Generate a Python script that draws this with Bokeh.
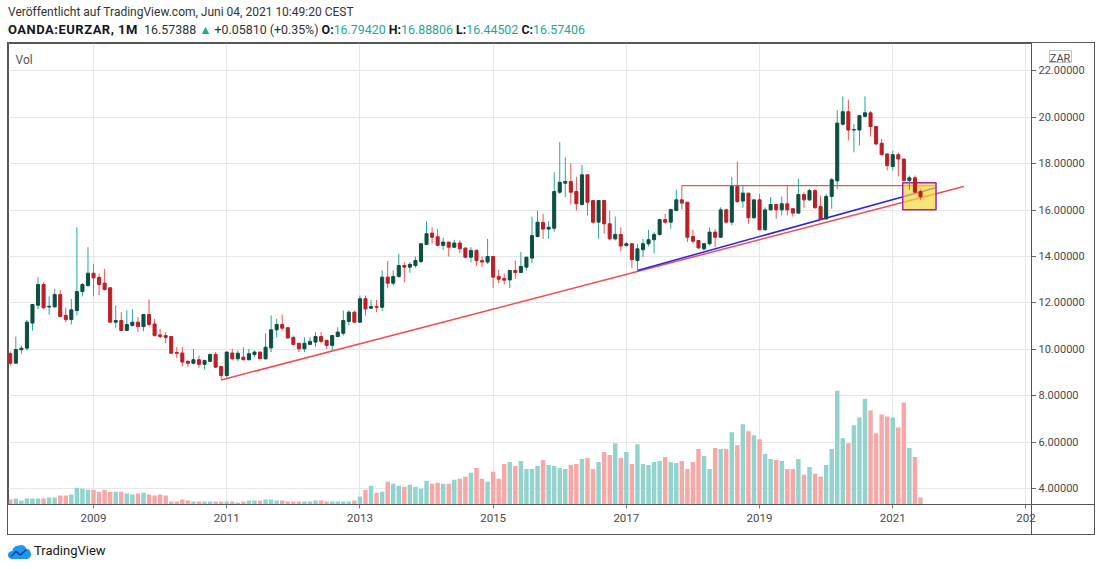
import numpy as np
from bokeh.plotting import figure
from bokeh.models import Range1d, FixedTicker, NumeralTickFormatter, ColumnDataSource, Label, Div
from bokeh.layouts import column
from bokeh.embed import file_html
from bokeh.resources import INLINE

# ---------------- data (monthly candles, first bar = Oct 2007) ----------------
first_year, first_month = 2007, 10

opens = [
    9.81, 9.40, 9.98, 10.05, 11.13, 11.90, 12.79, 11.82, 11.83, 12.36,
    11.46, 11.28, 11.67, 12.49, 12.75, 13.28, 13.10, 12.85, 12.65, 11.17,
    11.24, 10.81, 11.03, 11.17, 10.98, 11.50, 11.09, 10.62, 10.59, 10.55,
    9.86, 9.84, 9.48, 9.40, 9.55, 9.35, 9.48, 9.78, 9.26, 8.87,
    9.84, 9.59, 9.66, 9.55, 9.78, 9.88, 9.59, 10.06, 10.84, 11.07,
    10.93, 10.51, 10.26, 10.02, 10.21, 10.31, 10.55, 10.38, 10.17, 10.55,
    10.69, 11.20, 11.60, 11.17, 12.18, 11.77, 11.84, 11.81, 13.11, 12.85,
    13.14, 13.61, 13.54, 13.61, 13.78, 14.52, 15.01, 14.85, 14.48, 14.62,
    14.40, 14.58, 14.36, 13.97, 14.27, 13.82, 13.76, 14.00, 13.14, 13.05,
    12.99, 13.40, 13.31, 13.54, 13.93, 14.86, 15.47, 15.18, 15.22, 16.77,
    17.16, 17.23, 16.80, 16.24, 17.52, 16.41, 15.48, 16.41, 15.41, 14.76,
    14.95, 14.47, 14.55, 13.83, 14.29, 14.55, 14.72, 14.95, 15.59, 15.48,
    15.98, 16.44, 16.34, 14.86, 14.69, 14.33, 14.55, 15.05, 14.83, 16.01,
    15.48, 17.02, 16.39, 16.73, 15.67, 16.44, 15.15, 16.01, 16.24, 16.01,
    16.27, 16.06, 15.87, 16.67, 16.44, 16.84, 16.16, 15.62, 16.59, 17.26,
    19.70, 20.24, 19.45, 19.45, 20.04, 20.19, 19.60, 18.88, 18.42, 17.88,
    18.39, 18.20, 17.27, 17.39, 16.79420,
]
highs = [
    9.91, 10.55, 10.16, 11.27, 11.95, 13.11, 12.89, 12.28, 12.60, 12.56,
    11.79, 12.17, 15.26, 12.85, 14.40, 13.68, 13.25, 13.47, 12.68, 11.89,
    11.60, 11.67, 11.72, 11.38, 11.52, 12.15, 11.31, 10.88, 10.74, 10.56,
    10.09, 10.09, 9.52, 10.02, 9.73, 9.55, 9.81, 9.88, 9.27, 9.90,
    10.02, 9.95, 10.09, 10.02, 9.95, 9.90, 10.69, 11.46, 11.31, 11.50,
    10.95, 10.59, 10.27, 10.52, 10.52, 10.74, 10.74, 10.41, 10.60, 10.95,
    11.67, 11.67, 11.67, 12.32, 12.32, 12.13, 12.13, 13.40, 13.80, 13.40,
    14.12, 13.75, 13.75, 14.00, 14.56, 15.52, 15.26, 15.19, 14.81, 14.63,
    14.72, 14.70, 14.40, 14.40, 14.29, 14.00, 14.76, 14.01, 13.43, 13.26,
    13.41, 13.83, 14.19, 13.98, 15.72, 15.98, 15.84, 15.52, 17.63, 18.93,
    18.28, 18.02, 17.42, 17.95, 17.53, 16.42, 16.42, 16.42, 15.98, 15.72,
    15.26, 14.62, 14.56, 14.55, 14.76, 15.15, 15.05, 15.62, 15.84, 16.04,
    16.87, 17.06, 16.35, 15.15, 14.70, 14.56, 15.26, 15.19, 16.12, 16.06,
    17.42, 18.09, 17.06, 16.74, 16.45, 16.70, 16.12, 16.56, 16.25, 16.59,
    17.02, 16.07, 17.35, 16.77, 16.91, 16.91, 16.63, 16.70, 17.39, 20.30,
    20.90, 20.76, 19.71, 20.08, 20.90, 20.27, 19.61, 19.07, 18.43, 18.56,
    18.49, 18.21, 17.49, 17.49, 16.88806,
]
lows = [
    9.30, 9.40, 9.81, 9.95, 10.81, 11.72, 11.72, 11.50, 11.79, 11.38,
    11.17, 11.07, 11.46, 12.28, 12.68, 12.28, 12.32, 12.53, 11.15, 10.93,
    10.78, 10.80, 10.98, 10.74, 10.78, 10.98, 10.55, 10.48, 10.26, 9.81,
    9.63, 9.26, 9.23, 9.35, 9.20, 9.12, 9.46, 9.20, 8.68, 8.77,
    9.52, 9.48, 9.52, 9.52, 9.66, 9.59, 9.55, 9.88, 10.52, 10.81,
    10.45, 10.17, 9.88, 9.88, 10.20, 10.09, 10.26, 10.02, 9.95, 10.52,
    10.59, 11.03, 11.14, 11.14, 11.46, 11.74, 11.60, 11.64, 12.63, 12.75,
    13.08, 12.89, 13.30, 13.51, 13.71, 14.48, 14.55, 14.44, 14.28, 14.00,
    14.36, 14.14, 13.92, 13.75, 13.59, 13.54, 13.68, 12.65, 12.84, 12.80,
    12.64, 13.04, 13.28, 13.40, 13.71, 14.83, 14.76, 14.76, 15.05, 16.70,
    16.56, 16.24, 15.98, 16.20, 15.77, 15.41, 14.76, 14.98, 14.69, 14.69,
    14.23, 14.43, 13.51, 13.40, 13.97, 14.43, 14.14, 14.90, 15.41, 15.19,
    15.97, 16.03, 14.62, 14.55, 14.33, 14.26, 14.47, 14.40, 14.81, 15.41,
    15.34, 16.30, 16.10, 15.41, 15.62, 15.14, 15.12, 15.98, 15.62, 15.77,
    15.77, 15.72, 15.84, 16.10, 16.39, 16.06, 15.58, 15.58, 16.06, 16.90,
    19.65, 19.00, 18.49, 18.78, 20.00, 19.17, 18.78, 18.35, 17.71, 17.71,
    17.45, 17.24, 16.87, 16.73, 16.44502,
]
closes = [
    9.40, 9.99, 10.05, 11.17, 11.93, 12.79, 11.79, 11.85, 12.36, 11.41,
    11.28, 11.70, 12.49, 12.79, 13.28, 13.08, 12.79, 12.58, 11.17, 11.24,
    10.81, 11.07, 11.17, 10.98, 11.50, 11.07, 10.59, 10.55, 10.51, 9.83,
    9.83, 9.45, 9.40, 9.55, 9.35, 9.52, 9.78, 9.23, 8.87, 9.88,
    9.59, 9.83, 9.55, 9.81, 9.88, 9.59, 10.09, 10.84, 11.07, 10.91,
    10.49, 10.21, 10.02, 10.26, 10.34, 10.55, 10.34, 10.17, 10.59, 10.74,
    11.24, 11.60, 11.17, 12.18, 11.74, 11.84, 11.81, 13.11, 12.85, 13.14,
    13.61, 13.54, 13.66, 13.83, 14.55, 14.98, 14.83, 14.48, 14.62, 14.40,
    14.58, 14.33, 13.97, 14.26, 13.82, 13.76, 14.00, 13.11, 13.02, 12.98,
    13.40, 13.31, 13.57, 13.97, 14.90, 15.48, 15.18, 15.26, 16.80, 17.20,
    17.23, 16.77, 16.27, 17.52, 16.34, 15.48, 16.41, 15.41, 14.76, 14.95,
    14.45, 14.55, 13.86, 14.33, 14.55, 14.72, 14.95, 15.59, 15.48, 16.03,
    16.44, 16.30, 14.83, 14.66, 14.37, 14.55, 15.05, 14.83, 16.01, 15.48,
    17.02, 16.37, 16.73, 15.67, 16.44, 15.15, 16.01, 16.24, 16.01, 16.27,
    16.01, 15.87, 16.67, 16.44, 16.84, 16.10, 15.62, 16.59, 17.31, 19.75,
    20.24, 19.45, 19.47, 20.07, 20.19, 19.60, 18.85, 18.39, 17.92, 18.39,
    18.20, 17.27, 17.39, 16.77, 16.57406,
]
volumes = [
    15, 18, 12, 18, 18, 18, 18, 21, 21, 27,
    27, 30, 51, 48, 45, 45, 39, 45, 39, 39,
    39, 33, 30, 33, 36, 30, 27, 30, 27, 9,
    9, 15, 12, 9, 9, 9, 9, 9, 9, 9,
    9, 6, 9, 12, 12, 12, 15, 15, 12, 12,
    9, 9, 9, 9, 9, 12, 12, 9, 9, 9,
    9, 9, 12, 24, 45, 57, 36, 39, 69, 63,
    57, 54, 60, 54, 48, 72, 63, 66, 63, 63,
    75, 78, 84, 96, 111, 78, 69, 99, 78, 123,
    129, 117, 132, 108, 108, 117, 135, 120, 117, 111,
    108, 120, 123, 138, 141, 108, 129, 159, 150, 186,
    141, 159, 123, 183, 123, 120, 129, 132, 144, 129,
    126, 132, 108, 129, 168, 147, 108, 171, 168, 168,
    219, 180, 243, 222, 210, 198, 153, 138, 135, 132,
    108, 108, 138, 90, 114, 93, 84, 120, 168, 345,
    201, 186, 240, 264, 321, 285, 216, 273, 267, 264,
    234, 309, 171, 144, 21,
]

tick_years = [2009, 2011, 2013, 2015, 2017, 2019, 2021, 2023]
tick_labels = ["2009", "2011", "2013", "2015", "2017", "2019", "2021", "202"]
price_ticks = [4, 6, 8, 10, 12, 14, 16, 18, 20, 22]
currency_label, currency_label_y = "ZAR", 22.53

# drawings (bar index, price)
red_trend_x, red_trend_y = [38, 171.8], [8.68, 17.02]
blue_trend_x, blue_trend_y = [113, 166.7], [13.40, 16.96]
level_x, level_y = [121, 166.7], [17.05, 17.05]
box_x, box_y = [160.8, 166.8], [16.01, 17.18]

published = "Veröffentlicht auf TradingView.com, Juni 04, 2021 10:49:20 CEST"
symbol = "OANDA:EURZAR, 1M"
last_price = "16.57388"
change = "+0.05810 (+0.35%)"
ohlc_labels = ["O:", "H:", "L:", "C:"]
ohlc_values = ["16.79420", "16.88806", "16.44502", "16.57406"]

# ---------------- build ----------------
n = len(opens)
x = np.arange(n)
o = np.array(opens); h = np.array(highs); l = np.array(lows); c = np.array(closes)
up = c >= o
src = ColumnDataSource(dict(
    x=x, o=o, h=h, l=l, c=c,
    top=np.maximum(o, c), bot=np.minimum(o, c),
    wick=np.where(up, "#26a69a", "#ef5350"),
    body=np.where(up, "#0b4f40", "#bb1f25"),
    vol=np.array(volumes),
    vcol=np.where(up, "#92d3cd", "#f6a8a6"),
))

tick_pos = [(y - first_year) * 12 + (1 - first_month) for y in tick_years]

FIG_W, FIG_H, AX_R, AX_B = 1086, 491, 63, 30
Y0, Y1 = 3.31, 23.18
p = figure(width=FIG_W, height=FIG_H, x_range=Range1d(-0.32, 184.0), y_range=Range1d(Y0, Y1),
           output_backend="svg", toolbar_location=None, y_axis_location="right",
           min_border_left=0, min_border_right=AX_R, min_border_top=0, min_border_bottom=AX_B,
           background_fill_color="white", border_fill_color=None)
p.extra_y_ranges = {"vol": Range1d(0, 1398)}

# panel separators, price-axis tick marks and the currency badge frame (CSS, behind the canvas)
frame_r, frame_h = FIG_W - AX_R, FIG_H - AX_B
grads = []
def css_line(x0, y0, w, hh, col):
    grads.append((f"linear-gradient({col},{col})", f"{x0}px {y0}px", f"{w}px {hh}px"))
css_line(frame_r, frame_h, 1, AX_B, "#555")
css_line(frame_r, frame_h, AX_R, 1, "#555")
for t in price_ticks:
    css_line(frame_r + 1, round(frame_h - (t - Y0) / (Y1 - Y0) * frame_h), 4, 1, "#666")
bx, by, bw, bh = frame_r + 18, 7, 22, 12
css_line(bx, by, bw, 1, "#c4c4c4")
css_line(bx, by + bh, bw, 1, "#c4c4c4")
css_line(bx, by, 1, bh, "#c4c4c4")
css_line(bx + bw, by, 1, bh + 1, "#c4c4c4")
p.styles = {
    "outline": "1px solid #555",
    "background-color": "white",
    "background-image": ", ".join(g[0] for g in grads),
    "background-position": ", ".join(g[1] for g in grads),
    "background-size": ", ".join(g[2] for g in grads),
    "background-repeat": "no-repeat",
}

p.outline_line_color = "#555"
p.outline_line_width = 1
p.xgrid.grid_line_color = "#e6e6e6"
p.ygrid.grid_line_color = "#e6e6e6"

xa = p.xaxis[0]
xa.ticker = FixedTicker(ticks=tick_pos)
xa.major_label_overrides = {t: s for t, s in zip(tick_pos, tick_labels)}
ya = p.yaxis[0]
ya.ticker = FixedTicker(ticks=price_ticks + [currency_label_y])
ya.formatter = NumeralTickFormatter(format="0.00000")
ya.major_label_overrides = {currency_label_y: "\u2002\u2002" + currency_label}
p.ygrid.ticker = FixedTicker(ticks=price_ticks)
for ax in (xa, ya):
    ax.minor_tick_line_color = None
    ax.major_tick_in = 0
    ax.axis_line_color = "#555"
    ax.major_label_text_font = "Roboto"
    ax.major_label_text_color = "#4a4a4a"
ya.major_tick_line_color = None
ya.major_tick_out = 0
ya.major_label_standoff = 7
ya.major_label_text_font_size = "11px"
xa.major_tick_line_color = "#777"
xa.major_tick_out = 4
xa.major_label_standoff = 5
xa.major_label_text_font_size = "11.5px"

# volume
p.vbar(x="x", width=0.8, top="vol", bottom=0, y_range_name="vol", source=src,
       fill_color="vcol", line_color=None)

# drawings below the box
p.line(red_trend_x, red_trend_y, line_color="#f44c4c", line_width=1.5)
p.line(blue_trend_x, blue_trend_y, line_color="#2424ee", line_width=1.5)
p.line(level_x, level_y, line_color="#f05050", line_width=1.2)
p.quad(left=box_x[0], right=box_x[1], bottom=box_y[0], top=box_y[1],
       fill_color="#f5d83a", fill_alpha=0.7, line_color="#9c27b0", line_width=1.5)

# candles
p.segment(x0="x", y0="l", x1="x", y1="h", line_color="wick", line_width=1, source=src)
p.vbar(x="x", width=0.55, top="top", bottom="bot", fill_color="body", line_color="body",
       line_width=1, source=src)

p.add_layout(Label(x=0.95, y=22.45, text="Vol", text_font="Roboto", text_font_size="12px",
                   text_color="#555", text_baseline="middle", text_align="left"))

ohlc_html = " ".join(
    f'<b style="color:#131722">{lab}</b><span style="color:#26a69a">{val}</span>'
    for lab, val in zip(ohlc_labels, ohlc_values))
header = Div(width=1086, height=35, margin=(0, 0, 0, 0), text=(
    '<div style="position:relative;top:-4px;font-family:Roboto,sans-serif;font-size:12px;'
    'color:#333;line-height:17px;white-space:nowrap">'
    f'<div>{published}</div>'
    '<div style="font-size:12.4px">'
    f'<b style="color:#131722;font-size:13px;letter-spacing:0.5px">{symbol}</b>&nbsp; {last_price} '
    f'<span style="color:#26a69a">&#9650;</span> {change} {ohlc_html}</div></div>'))

logo_svg = ('<svg width="23" height="15" viewBox="0 0 23 15" style="vertical-align:middle">'
            '<path d="M4.5 15 C1 15 0 12.5 0 11 C0 8.5 2 7 4.2 7 C4.8 3.5 7.5 1.5 10.5 1.8 '
            'C13 0 17.5 1 18.3 4.8 C21.3 5 23 7.5 23 10 C23 13 21 15 18 15 Z" fill="#2196f3"/>'
            '<polyline points="3,12.5 8,7.5 12.5,11 18.5,5.5" fill="none" stroke="#0d47a1" '
            'stroke-width="1.6"/></svg>')
footer = Div(width=300, height=26, margin=(0, 0, 0, 0), text=(
    '<div style="margin-top:8px;display:flex;align-items:center;font-family:Roboto,sans-serif;'
    f'font-size:13px;color:#131722">{logo_svg}<span style="margin-left:3px">TradingView</span></div>'))

layout = column(header, p, footer, margin=(8, 0, 0, 8))
open("out.html", "w").write(file_html(layout, INLINE))
